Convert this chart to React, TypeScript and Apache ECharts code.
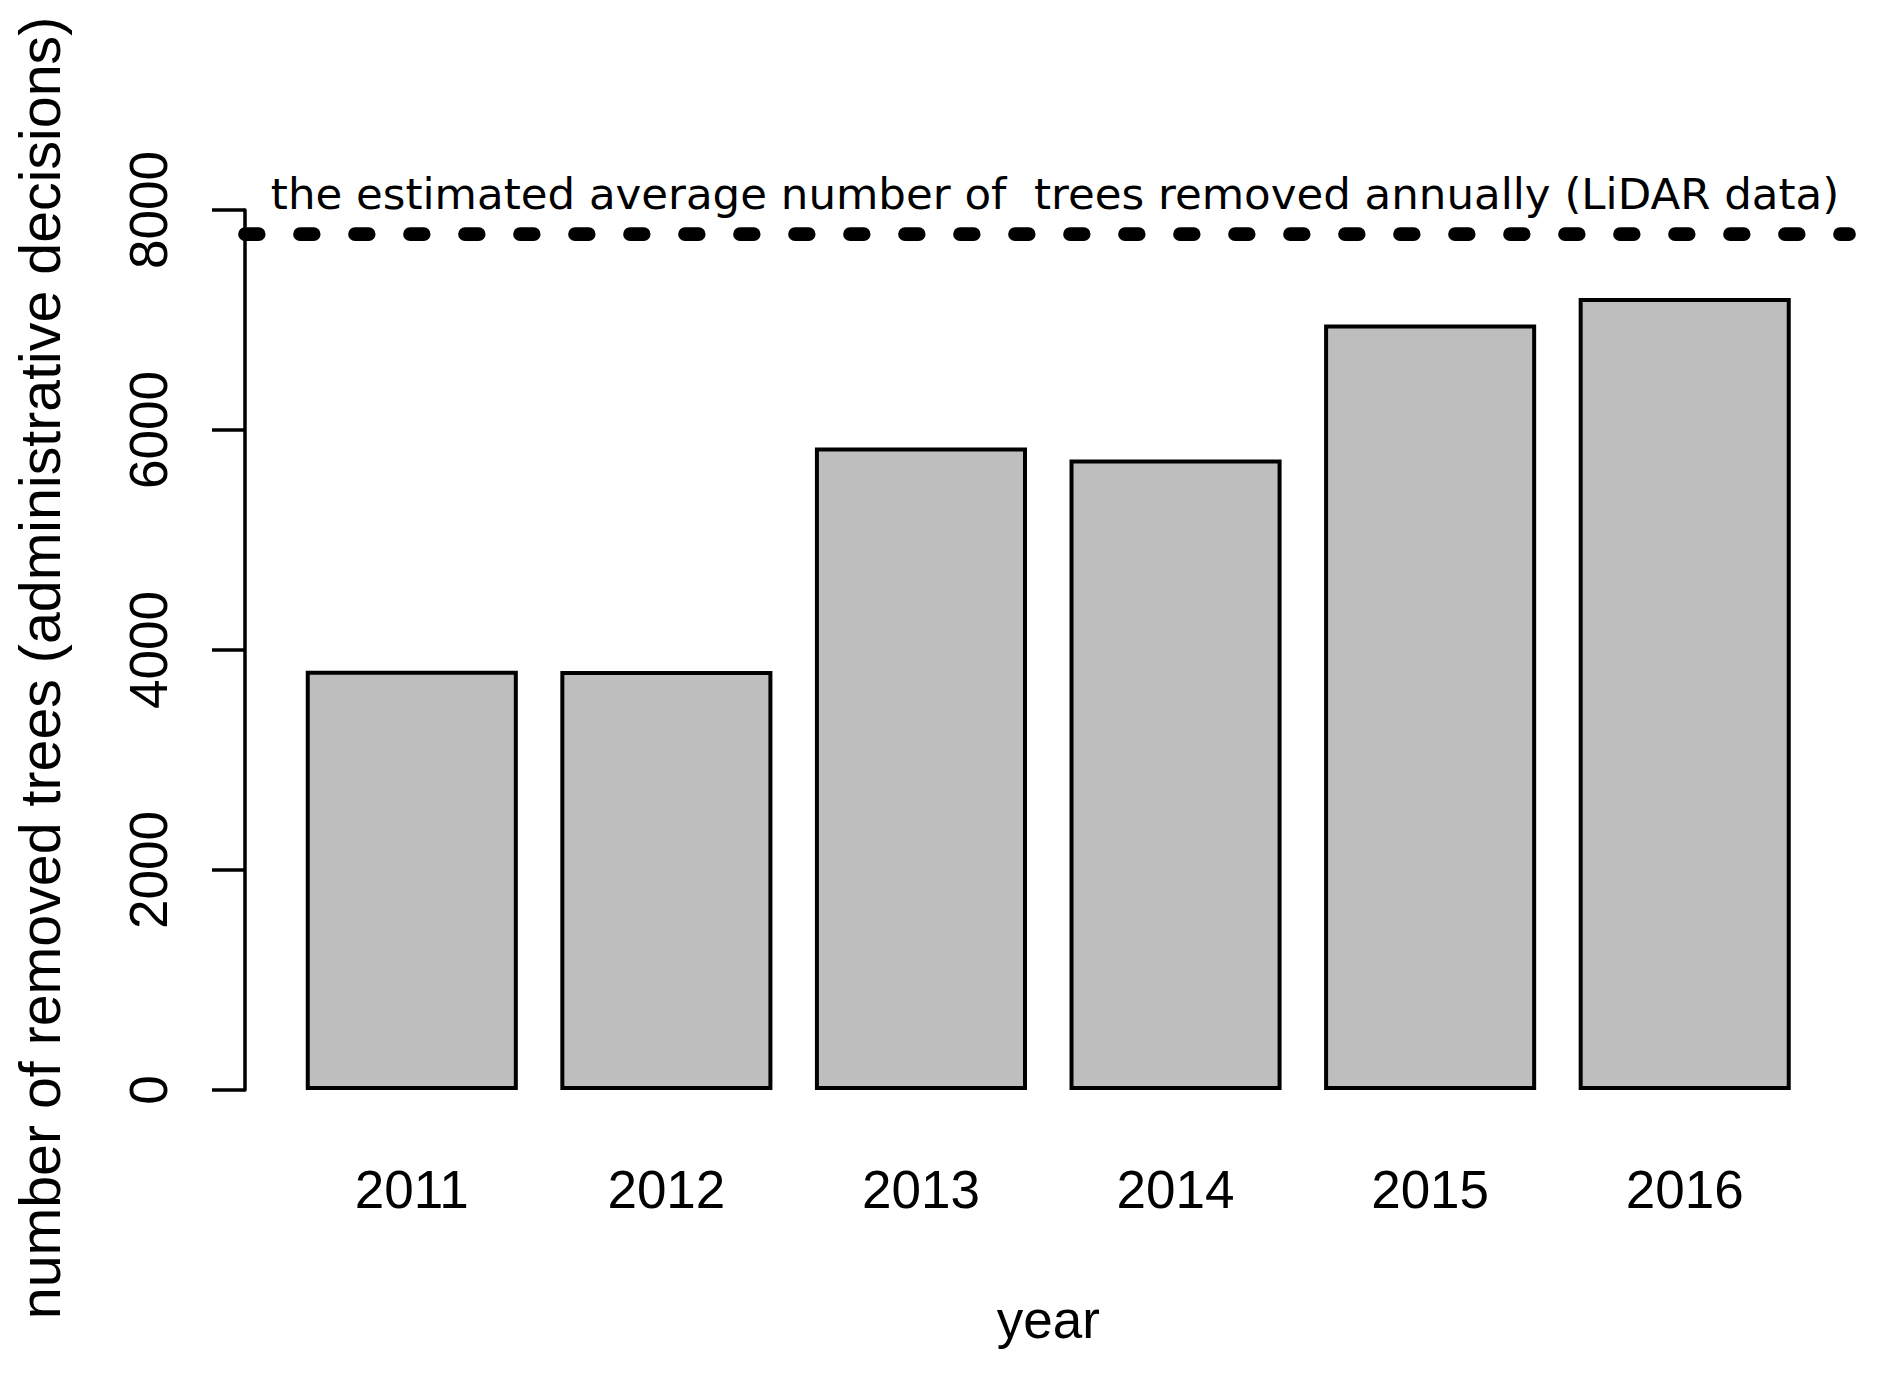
import React, { useEffect, useRef } from "react";
import * as echarts from "echarts";

// ---- data ----
const YEARS = ["2011", "2012", "2013", "2014", "2015", "2016"];
const REMOVED_TREES = [3812, 3810, 5840, 5732, 6960, 7200];
const LIDAR_AVERAGE = 7780;
// plot-region extent of the original, in category-slot units (slot i spans i..i+1)
const PLOT_X_RANGE = [-0.155, 6.145];
const Y_MIN = 0;
const Y_MAX = 8000;
const Y_STEP = 2000;
const ANNOTATION = "the estimated average number of  trees removed annually (LiDAR data)";
const Y_TITLE = "number of removed trees (administrative decisions)";
const X_TITLE = "year";

const AXIS_FONT = '"Liberation Sans", Arial, Helvetica, sans-serif';
const NOTE_FONT = '"DejaVu Sans", Verdana, sans-serif';

export default function App() {
  const ref = useRef<HTMLDivElement>(null);

  useEffect(() => {
    if (!ref.current) return;
    const chart = echarts.init(ref.current, undefined, { renderer: "svg" });
    const option = {
      animation: false,
      backgroundColor: "#ffffff",
      grid: [
        // plot region (y axis + reference line)
        { left: 245, right: 47, top: 210, bottom: 283, containLabel: false },
        // bar area (category bands)
        { left: 284.5, right: 84, top: 210, bottom: 283, containLabel: false },
      ],
      xAxis: [
        {
          gridIndex: 0,
          type: "value",
          min: PLOT_X_RANGE[0],
          max: PLOT_X_RANGE[1],
          show: false,
        },
        {
          gridIndex: 1,
          type: "category",
          data: YEARS,
          boundaryGap: true,
          axisLine: { show: false },
          axisTick: { show: false },
          splitLine: { show: false },
          axisLabel: {
            fontSize: 53,
            fontFamily: AXIS_FONT,
            color: "#000",
            margin: 73,
          },
          name: X_TITLE,
          nameLocation: "middle",
          nameGap: 203,
          nameTextStyle: { fontSize: 53, fontFamily: AXIS_FONT, color: "#000" },
        },
      ],
      yAxis: [
        {
          gridIndex: 0,
          type: "value",
          min: Y_MIN,
          max: Y_MAX,
          interval: Y_STEP,
          axisLine: { show: true, onZero: false, lineStyle: { color: "#000", width: 3.5 } },
          axisTick: { show: true, length: 33, lineStyle: { color: "#000", width: 3.5 } },
          splitLine: { show: false },
          axisLabel: {
            rotate: 90,
            fontSize: 53,
            fontFamily: AXIS_FONT,
            color: "#000",
            margin: 70,
            formatter: (v: number) => String(v),
          },
        },
        {
          gridIndex: 1,
          type: "value",
          min: Y_MIN,
          max: Y_MAX,
          interval: Y_STEP,
          show: false,
        },
      ],
      graphic: [
        {
          type: "text",
          x: 40,
          y: 668,
          rotation: Math.PI / 2,
          silent: true,
          style: {
            text: Y_TITLE,
            fontSize: 57.3,
            fontFamily: AXIS_FONT,
            fill: "#000",
            textAlign: "center",
            textVerticalAlign: "middle",
            align: "center",
            verticalAlign: "middle",
          },
        },
        {
          type: "text",
          x: 1055,
          y: 194,
          silent: true,
          style: {
            text: ANNOTATION,
            fontSize: 43.5,
            fontFamily: NOTE_FONT,
            fill: "#000",
            textAlign: "center",
            textVerticalAlign: "middle",
            align: "center",
            verticalAlign: "middle",
          },
        },
      ],
      series: [
        {
          type: "bar",
          xAxisIndex: 1,
          yAxisIndex: 1,
          data: REMOVED_TREES,
          barWidth: "83.3%",
          itemStyle: { color: "#BEBEBE", borderColor: "#000", borderWidth: 4 },
          silent: true,
        },
        {
          type: "line",
          xAxisIndex: 0,
          yAxisIndex: 0,
          data: [
            [PLOT_X_RANGE[0], LIDAR_AVERAGE],
            [PLOT_X_RANGE[1], LIDAR_AVERAGE],
          ],
          symbol: "none",
          clip: true,
          silent: true,
          lineStyle: { color: "#000", width: 13.7, type: [13.7, 41.3], cap: "round" },
        },
      ],
    };
    chart.setOption(option as any);
    return () => chart.dispose();
  }, []);

  return (
    <div
      ref={ref}
      style={{ position: "fixed", left: 0, top: 0, width: 1896, height: 1373, background: "#fff" }}
    />
  );
}
